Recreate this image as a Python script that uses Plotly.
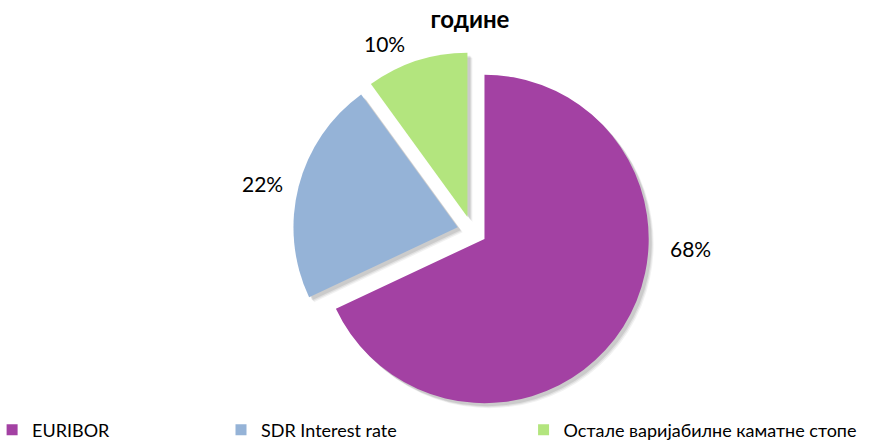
import plotly.graph_objects as go

# Variable-rate loan structure by reference rate
labels = ["EURIBOR", "SDR Interest rate", "Остале варијабилне каматне стопе"]
shares = [68, 22, 10]
colors = ["#A341A3", "#95B3D7", "#B3E57E"]
title_text = "године"

W, H = 877, 441
FONT = "Lato, 'Noto Sans', sans-serif"

# pie geometry (pixels)
cx, cy, half = 472, 231, 179
pull = 0.09

def dom(dx=0, dy=0):
    return dict(
        x=[(cx + dx - half) / W, (cx + dx + half) / W],
        y=[1 - (cy + dy + half) / H, 1 - (cy + dy - half) / H],
    )

fig = go.Figure()

# soft drop shadow under the slices
for off, alpha in [(5, 0.05), (4, 0.07), (3, 0.09)]:
    fig.add_trace(go.Pie(
        labels=labels, values=shares, sort=False, direction="clockwise",
        rotation=0, pull=pull, domain=dom(off, off),
        marker=dict(colors=[f"rgba(0,0,0,{alpha})"] * 3, line=dict(width=0)),
        textinfo="none", hoverinfo="skip", showlegend=False,
    ))

fig.add_trace(go.Pie(
    labels=labels, values=shares, sort=False, direction="clockwise",
    rotation=0, pull=pull, domain=dom(),
    marker=dict(colors=colors, line=dict(width=0)),
    textinfo="none", showlegend=False,
))

# percentage labels outside the slices
label_pos = [(690, 248), (262, 183), (384, 43)]
for v, (px, py) in zip(shares, label_pos):
    fig.add_annotation(
        x=px / W, y=1 - py / H, xref="paper", yref="paper",
        xanchor="center", yanchor="middle",
        text=f"{v}%", showarrow=False,
        font=dict(family=FONT, size=21, color="#000000"),
    )

# legend: one entry per legend box along the bottom
legend_x = [-0.009, 0.252, 0.597]
legend_names = ["legend", "legend2", "legend3"]
layout_legends = {}
for name, lab, col, lx in zip(legend_names, labels, colors, legend_x):
    fig.add_trace(go.Scatter(
        x=[None], y=[None], mode="markers", name=lab, legend=name,
        marker=dict(symbol="square", size=11, color=col),
    ))
    layout_legends[name] = dict(
        x=lx, y=11 / H, xanchor="left", yanchor="middle",
        orientation="h", bgcolor="rgba(0,0,0,0)",
        font=dict(family=FONT, size=18, color="#000000"),
    )

fig.update_layout(
    width=W, height=H,
    margin=dict(l=0, r=0, t=0, b=0, autoexpand=False),
    paper_bgcolor="#FFFFFF", plot_bgcolor="#FFFFFF",
    title=dict(text=f"<b>{title_text}</b>", x=470 / W, xanchor="center",
               y=1 - 20 / H, yanchor="middle",
               font=dict(family=FONT, size=24, color="#000000")),
    xaxis=dict(visible=False), yaxis=dict(visible=False),
    **layout_legends,
)

fig.write_html("out.html")
